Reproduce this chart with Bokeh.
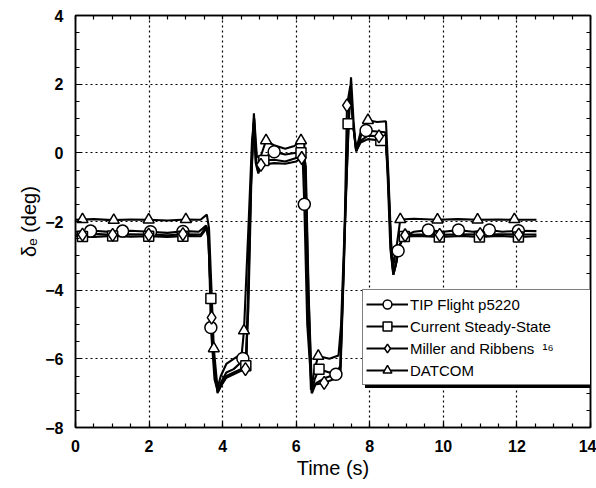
from bokeh.plotting import figure
from bokeh.models import (Range1d, LinearAxis, SingleIntervalTicker, FixedTicker,
                          Legend, LegendItem)
from bokeh.embed import file_html
from bokeh.resources import INLINE

# ---- elevator deflection time histories (time in s, deflection in deg) ----
tip_t = [0.0, 0.5, 1.0, 1.5, 2.0, 2.5, 3.0, 3.35, 3.55, 3.62, 3.68, 3.78, 3.87,
         3.95, 4.1, 4.3, 4.45, 4.55, 4.65, 4.75, 4.85, 4.92, 5.0, 5.2, 5.4, 5.7,
         6.0, 6.12, 6.18, 6.22, 6.3, 6.42, 6.55, 6.8, 7.08, 7.2, 7.3, 7.42, 7.49,
         7.56, 7.63, 7.72, 7.8, 7.9, 8.2, 8.42, 8.48, 8.56, 8.64, 8.7, 8.77, 8.9,
         9.2, 9.59, 10.0, 10.41, 10.8, 11.25, 11.6, 12.04, 12.53]
tip_y = [-2.3, -2.27, -2.31, -2.27, -2.3, -2.33, -2.28, -2.3, -2.12, -2.4, -5.09,
         -6.6, -6.95, -6.7, -6.4, -6.3, -6.15, -5.99, -5.9, -1.5, 1.15, -0.3, -0.45,
         -0.1, 0.03, -0.05, 0.0, 0.05, -0.3, -1.5, -5.0, -6.9, -6.7, -6.55, -6.45,
         -6.2, -3.0, 0.8, 2.2, 0.9, 0.05, 0.3, 0.7, 0.65, 0.62, 0.6, -0.5, -2.8,
         -3.55, -3.3, -2.85, -2.45, -2.3, -2.25, -2.3, -2.25, -2.3, -2.25, -2.3,
         -2.27, -2.28]
tip_mt = [0.41, 1.28, 2.04, 2.92, 3.68, 4.55, 5.4, 6.22, 7.08, 7.9, 8.77, 9.59,
          10.41, 11.25, 12.04]
tip_my = [-2.28, -2.28, -2.3, -2.29, -5.09, -5.99, 0.03, -1.5, -6.45, 0.65, -2.85,
          -2.25, -2.25, -2.25, -2.27]

css_t = [0.0, 0.5, 1.0, 1.5, 2.0, 2.5, 3.0, 3.4, 3.56, 3.61, 3.68, 3.76, 3.86,
         3.95, 4.1, 4.3, 4.5, 4.63, 4.7, 4.78, 4.85, 4.9, 4.97, 5.12, 5.4, 5.7,
         6.0, 6.13, 6.25, 6.33, 6.42, 6.5, 6.62, 6.9, 7.2, 7.3, 7.41, 7.48, 7.55,
         7.63, 7.75, 7.95, 8.3, 8.44, 8.5, 8.58, 8.64, 8.72, 8.8, 8.94, 9.3, 9.89,
         10.5, 10.98, 11.5, 12.04, 12.53]
css_y = [-2.43, -2.45, -2.42, -2.44, -2.43, -2.45, -2.42, -2.43, -2.2, -2.5, -4.24,
         -6.0, -7.0, -6.8, -6.5, -6.4, -6.3, -6.2, -4.0, -0.5, 0.9, -0.2, -0.55,
         -0.22, -0.2, -0.25, -0.15, 0.0, -0.3, -4.0, -7.0, -6.6, -6.3, -6.4, -6.3,
         -3.0, 0.85, 1.9, 0.8, 0.05, 0.3, 0.4, 0.36, 0.35, -0.8, -2.9, -3.55, -3.2,
         -2.7, -2.44, -2.42, -2.45, -2.42, -2.45, -2.42, -2.45, -2.43]
css_mt = [0.19, 1.01, 1.99, 2.92, 3.68, 4.63, 5.12, 6.13, 6.62, 7.41, 8.3, 8.94,
          9.89, 10.98, 12.04]
css_my = [-2.44, -2.42, -2.43, -2.43, -4.24, -6.2, -0.22, 0.0, -6.3, 0.85, 0.36,
          -2.44, -2.45, -2.45, -2.45]

mr_t = [0.0, 0.5, 1.0, 1.5, 2.0, 2.5, 3.0, 3.4, 3.56, 3.61, 3.7, 3.78, 3.87, 3.95,
        4.1, 4.3, 4.5, 4.62, 4.7, 4.78, 4.85, 4.9, 4.97, 5.04, 5.4, 5.7, 6.0, 6.15,
        6.26, 6.34, 6.43, 6.52, 6.76, 7.0, 7.2, 7.3, 7.38, 7.47, 7.55, 7.63, 7.75,
        7.95, 8.25, 8.44, 8.5, 8.58, 8.64, 8.72, 8.8, 8.96, 9.3, 9.9, 10.5, 11.0,
        11.5, 12.05, 12.53]
mr_y = [-2.38, -2.36, -2.39, -2.37, -2.38, -2.4, -2.37, -2.38, -2.15, -2.45, -4.8,
        -6.4, -6.95, -6.8, -6.55, -6.45, -6.35, -6.3, -4.5, -0.8, 1.0, -0.3, -0.6,
        -0.35, -0.3, -0.32, -0.25, -0.15, -0.4, -4.2, -7.0, -6.75, -6.7, -6.6, -6.5,
        -3.2, 1.38, 1.95, 0.8, 0.05, 0.35, 0.5, 0.48, 0.47, -0.7, -2.85, -3.5, -3.2,
        -2.7, -2.4, -2.38, -2.39, -2.37, -2.38, -2.37, -2.38, -2.38]
mr_mt = [0.19, 1.01, 1.99, 2.92, 3.7, 4.62, 5.04, 6.15, 6.76, 7.38, 8.25, 8.96,
         9.9, 11.0, 12.05]
mr_my = [-2.38, -2.39, -2.38, -2.37, -4.8, -6.3, -0.35, -0.15, -6.7, 1.38, 0.48,
         -2.4, -2.39, -2.37, -2.38]

dat_t = [0.0, 0.5, 1.0, 1.5, 2.0, 2.5, 3.0, 3.4, 3.57, 3.63, 3.76, 3.86, 3.95,
         4.1, 4.3, 4.52, 4.58, 4.7, 4.8, 4.86, 4.93, 5.02, 5.18, 5.4, 5.7, 5.95,
         6.13, 6.22, 6.3, 6.4, 6.5, 6.6, 6.9, 7.15, 7.22, 7.35, 7.47, 7.55, 7.63,
         7.75, 7.95, 8.2, 8.44, 8.5, 8.58, 8.64, 8.72, 8.83, 9.2, 9.84, 10.4,
         10.93, 11.5, 11.93, 12.53]
dat_y = [-1.95, -1.93, -1.96, -1.94, -1.95, -1.97, -1.94, -1.95, -1.8, -2.2, -5.7,
         -6.85, -6.5, -6.15, -6.0, -5.85, -5.18, -2.2, 0.4, 1.0, -0.1, -0.15, 0.36,
         0.22, 0.12, 0.2, 0.36, 0.3, -3.5, -6.9, -6.3, -5.92, -6.0, -5.9, -5.0,
         -1.2, 1.9, 0.8, 0.1, 0.6, 0.95, 0.9, 0.92, -0.5, -2.6, -3.3, -2.8, -1.94,
         -1.92, -1.95, -1.93, -1.95, -1.94, -1.95, -1.95]
dat_mt = [0.19, 1.04, 1.99, 3.0, 3.76, 4.58, 5.18, 6.13, 6.6, 7.95, 8.83, 9.84,
          10.93, 11.93]
dat_my = [-1.94, -1.96, -1.95, -1.94, -5.7, -5.18, 0.36, 0.36, -5.92, 0.95, -1.94,
          -1.95, -1.95, -1.94]

series = [
    ("TIP Flight p5220", tip_t, tip_y, tip_mt, tip_my, "circle", 12),
    ("Current Steady-State", css_t, css_y, css_mt, css_my, "square", 10),
    ("Miller and Ribbens  \u00b9\u2076", mr_t, mr_y, mr_mt, mr_my, "diamond", 13),
    ("DATCOM", dat_t, dat_y, dat_mt, dat_my, "triangle", 11),
]

FONT = "Liberation Sans"

p = figure(width=596, height=488, x_range=Range1d(0, 14), y_range=Range1d(-8, 4),
           output_backend="svg", toolbar_location=None,
           min_border_left=75, min_border_right=6, min_border_top=15,
           min_border_bottom=61)
p.background_fill_color = "white"
p.border_fill_color = "white"
p.outline_line_color = "black"
p.outline_line_width = 1.5

xticker = SingleIntervalTicker(interval=2, num_minor_ticks=4)
yticker = SingleIntervalTicker(interval=2, num_minor_ticks=4)


def style_ticks(ax):
    ax.axis_line_color = "black"
    ax.axis_line_width = 1.5
    ax.major_tick_in = 6
    ax.major_tick_out = 0
    ax.minor_tick_in = 4
    ax.minor_tick_out = 0
    ax.major_tick_line_color = "black"
    ax.minor_tick_line_color = "black"
    ax.major_tick_line_width = 1.2
    ax.minor_tick_line_width = 1.2


for ax, tk in ((p.xaxis[0], xticker), (p.yaxis[0], yticker)):
    ax.ticker = tk
    style_ticks(ax)
    ax.major_label_text_font = FONT
    ax.major_label_text_font_size = "16px"
    ax.major_label_text_font_style = "bold"
    ax.major_label_text_color = "black"
    ax.major_label_standoff = 12
    ax.axis_label_text_font = FONT
    ax.axis_label_text_font_size = "20px"
    ax.axis_label_text_font_style = "normal"
    ax.axis_label_text_color = "black"

p.xaxis[0].axis_label = "Time (s)"
p.xaxis[0].axis_label_standoff = 2
p.yaxis[0].axis_label = "\u03b4\u2091 (deg)"
p.yaxis[0].axis_label_standoff = 2

# unlabeled tick-only axes on the top and right edges of the frame
top_ax = LinearAxis(ticker=FixedTicker(ticks=[], minor_ticks=[i * 0.5 for i in range(29)]))
right_ax = LinearAxis(ticker=FixedTicker(ticks=[], minor_ticks=[-8 + i * 0.5 for i in range(25)]))
for ax in (top_ax, right_ax):
    style_ticks(ax)
    ax.major_label_standoff = 0
    ax.axis_label_standoff = 0
    ax.major_label_text_font_size = "1px"
p.add_layout(top_ax, "above")
p.add_layout(right_ax, "right")

for g in (p.xgrid[0], p.ygrid[0]):
    g.grid_line_color = "black"
    g.grid_line_dash = "2 3"
    g.grid_line_width = 1.2
p.xgrid[0].ticker = xticker
p.ygrid[0].ticker = yticker

# curves first, then open markers on top of all curves
line_rs = []
for name, t, y, mt, my, marker, size in series:
    line_rs.append(p.line(t, y, line_color="black", line_width=2.1))
marker_rs = []
for name, t, y, mt, my, marker, size in series:
    marker_rs.append(p.scatter(mt, my, marker=marker, size=size, fill_color="white",
                               line_color="black", line_width=1.5))

legend_kw = dict(label_text_font=FONT, label_text_font_size="15px",
                 glyph_width=42, glyph_height=22, label_height=22, label_width=178,
                 label_standoff=2, padding=3, spacing=0, margin=0,
                 border_line_color="black", border_line_width=1.5)

# drop shadow behind the key box
ghost = p.line([], [], line_alpha=0)
shadow = Legend(items=[LegendItem(label=" ", renderers=[ghost]) for _ in series],
                location=(290, 39), background_fill_color="black",
                background_fill_alpha=1, label_text_alpha=0, **legend_kw)
p.add_layout(shadow)

legend = Legend(items=[LegendItem(label=s[0], renderers=[lr, mr])
                       for s, lr, mr in zip(series, line_rs, marker_rs)],
                location=(287, 42), background_fill_color="white",
                background_fill_alpha=1, label_text_color="black", **legend_kw)
p.add_layout(legend)

open("out.html", "w").write(file_html(p, INLINE))
